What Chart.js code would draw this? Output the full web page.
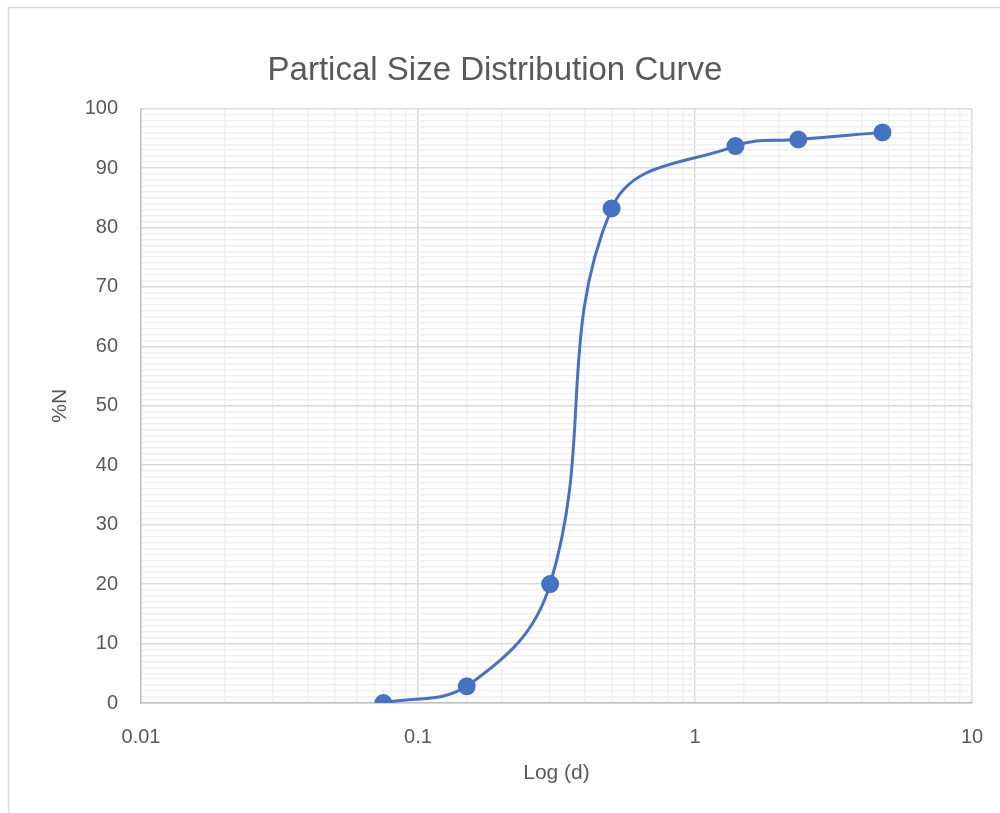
<!DOCTYPE html>
<html>
<head>
<meta charset="utf-8">
<script src="https://cdn.jsdelivr.net/npm/chart.js@4"></script>
<style>
  html, body { margin: 0; padding: 0; background: #ffffff; }
  #wrap { width: 1000px; height: 813px; position: relative; }
</style>
</head>
<body>
<div id="wrap"><canvas id="c" width="1000" height="813"></canvas></div>
<script>
// Data
const sieveSizes = [0.075, 0.15, 0.3, 0.5, 1.4, 2.36, 4.75];
const percentFiner = [0, 2.8, 20, 83.2, 93.7, 94.8, 96];
const chartTitle = 'Partical Size Distribution Curve';
const xAxisTitle = 'Log (d)';
const yAxisTitle = '%N';

const TEXT = '#595959';
const BLUE = '#4472C4';
const FONT = '"Liberation Sans", Arial, sans-serif';

const points = sieveSizes.map((x, i) => ({ x: x, y: percentFiner[i] }));

const outerBorder = {
  id: 'outerBorder',
  beforeDraw(chart) {
    const ctx = chart.ctx;
    ctx.save();
    ctx.fillStyle = '#ffffff';
    ctx.fillRect(0, 0, chart.width, chart.height);
    ctx.strokeStyle = '#d9d9d9';
    ctx.lineWidth = 1.5;
    ctx.strokeRect(8.5, 7.5, 1200, 1200);
    ctx.restore();
  }
};

function isPow10(v) {
  const l = Math.log10(v);
  return Math.abs(l - Math.round(l)) < 1e-9;
}

new Chart(document.getElementById('c'), {
  type: 'line',
  data: {
    datasets: [{
      data: points,
      borderColor: BLUE,
      backgroundColor: BLUE,
      borderWidth: 3,
      pointRadius: 7.5,
      pointHoverRadius: 7.5,
      pointBackgroundColor: BLUE,
      pointBorderColor: BLUE,
      tension: 0.4,
      fill: false
    }]
  },
  options: {
    responsive: false,
    animation: false,
    events: [],
    layout: { padding: { left: 18, right: 28, top: 0, bottom: 0 } },
    plugins: {
      legend: { display: false },
      tooltip: { enabled: false },
      title: {
        display: true,
        text: chartTitle,
        color: TEXT,
        font: { family: FONT, size: 33, weight: 'normal' },
        padding: { top: 51, bottom: 18 }
      }
    },
    scales: {
      x: {
        type: 'logarithmic',
        min: 0.01,
        max: 10,
        afterFit(scale) { scale.height = 110; },
        border: { color: '#bfbfbf', width: 1.5 },
        grid: {
          drawTicks: true,
          tickLength: 20,
          tickColor: 'rgba(0,0,0,0)',
          color: ctx => (ctx.tick && isPow10(ctx.tick.value)) ? '#d9d9d9' : '#f0f0f0',
          lineWidth: 1.5
        },
        ticks: {
          autoSkip: false,
          maxRotation: 0,
          padding: 2,
          color: TEXT,
          font: { family: FONT, size: 20 },
          callback: v => isPow10(v) ? String(Number(v.toPrecision(6))) : ''
        },
        title: {
          display: true,
          text: xAxisTitle,
          color: TEXT,
          font: { family: FONT, size: 21 },
          padding: { top: 0, bottom: 27 }
        }
      },
      y: {
        type: 'linear',
        min: 0,
        max: 100,
        afterFit(scale) { scale.width = 123; },
        border: { color: '#bfbfbf', width: 1.5 },
        grid: {
          drawTicks: false,
          color: ctx => (ctx.tick && ctx.tick.value % 10 === 0) ? '#d9d9d9' : '#f0f0f0',
          lineWidth: 1.5
        },
        ticks: {
          stepSize: 1,
          autoSkip: false,
          padding: 23,
          color: TEXT,
          font: { family: FONT, size: 20 },
          callback: v => (v % 10 === 0) ? String(v) : ''
        },
        title: {
          display: true,
          text: yAxisTitle,
          color: TEXT,
          font: { family: FONT, size: 21 },
          padding: { top: 30, bottom: 0 }
        }
      }
    }
  },
  plugins: [outerBorder]
});
</script>
</body>
</html>
